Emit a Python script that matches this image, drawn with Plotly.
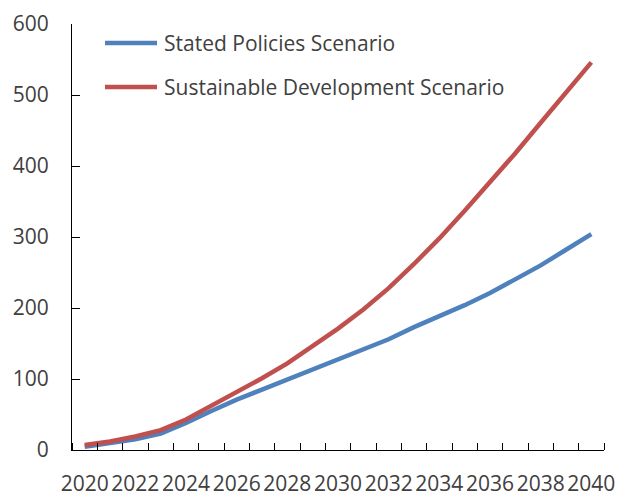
import plotly.graph_objects as go

years = list(range(2020, 2041))
stated_policies = [4.5, 9, 15, 23, 38, 55, 71, 85, 99, 113, 127,
                   141, 156, 173, 188, 204, 221, 240, 260, 282, 304]
sustainable_dev = [7, 12, 19, 28, 43, 62, 82, 101, 122, 146, 171,
                   198, 228, 262, 298, 337, 377, 418, 461, 504, 546]
tick_years = list(range(2020, 2041, 2))
series_names = ["Stated Policies Scenario", "Sustainable Development Scenario"]
series_colors = ["#4F81BD", "#C0504D"]

FONT = "Open Sans"
TEXT = "#404040"

fig = go.Figure()
for name, vals, col in zip(series_names, [stated_policies, sustainable_dev], series_colors):
    fig.add_trace(go.Scatter(x=years, y=vals, mode="lines", name=name,
                             line=dict(color=col, width=4.5), showlegend=False))

# legend keys drawn as short lines with text beside them
legend_rows = [0.9555, 0.852]
for name, col, yy in zip(series_names, series_colors, legend_rows):
    fig.add_shape(type="line", xref="paper", yref="paper",
                  x0=0.062, x1=0.1598, y0=yy, y1=yy,
                  line=dict(color=col, width=4.5))
    fig.add_annotation(xref="paper", yref="paper", x=0.169, y=yy,
                       text=name, showarrow=False, xanchor="left", yanchor="middle",
                       font=dict(family=FONT, size=21, color=TEXT))

fig.update_layout(
    width=619, height=496,
    margin=dict(l=72, r=15, t=24, b=45.5),
    paper_bgcolor="white", plot_bgcolor="white",
    font=dict(family=FONT, size=21, color=TEXT),
    xaxis=dict(range=[2019.5, 2040.5], tickvals=tick_years,
               ticktext=[str(y) for y in tick_years], ticks="",
               ticklabelstandoff=15, automargin=False,
               minor=dict(tick0=2019.5, dtick=1, ticks="inside", ticklen=7,
                          tickcolor="black", tickwidth=1),
               showline=True, linecolor="black", linewidth=1,
               showgrid=False, zeroline=False),
    yaxis=dict(range=[0, 600], dtick=100, ticks="inside", ticklen=8,
               tickcolor="black", ticklabelstandoff=18, automargin=False,
               showline=True, linecolor="black", linewidth=1,
               showgrid=False, zeroline=False),
)

fig.write_html("out.html")
